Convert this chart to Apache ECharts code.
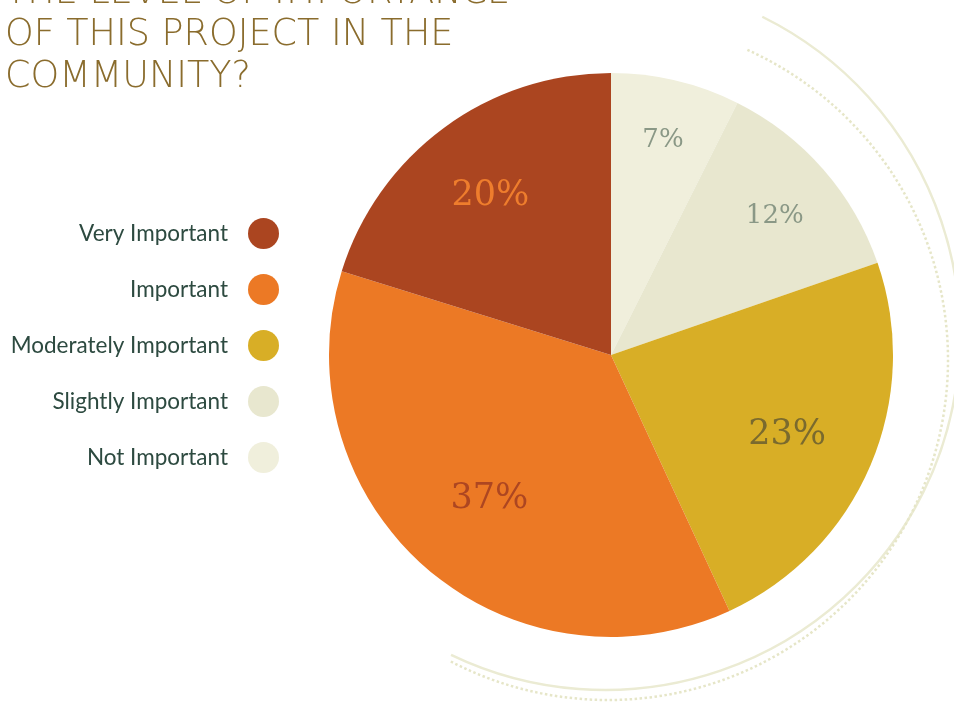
<!DOCTYPE html>
<html><head><meta charset="utf-8">
<script src="https://cdn.jsdelivr.net/npm/echarts@6/dist/echarts.min.js"></script>
<style>html,body{margin:0;padding:0;background:#fff}#chart{width:954px;height:702px}</style>
</head><body><div id="chart"></div>
<script>
const titleLines = ['THE LEVEL OF IMPORTANCE', 'OF THIS PROJECT IN THE', 'COMMUNITY?'];
const legendOrder = ['Very Important', 'Important', 'Moderately Important', 'Slightly Important', 'Not Important'];
const categories = ['Not Important', 'Slightly Important', 'Moderately Important', 'Important', 'Very Important'];
// slice sizes (labels show them rounded)
const values = [7.4, 12.3, 23.4, 36.7, 20.2];
const sliceColors = ['#f0efdc', '#e8e7cf', '#d8ae26', '#ec7925', '#ab4520'];
const labelColors = ['#8a9886', '#8a9886', '#7a6a2e', '#ad4621', '#ee7d2d'];
const labelSizes = [26, 26, 35, 35, 35];
const labelRadius = [0.80, 0.772, 0.679, 0.654, 0.721];

const CX = 611, CY = 355, R = 282;
const total = values.reduce((a, b) => a + b, 0);
const mids = []; let acc = 0;
values.forEach(v => { mids.push((acc + v / 2) / total * 2 * Math.PI); acc += v; });
const deg = Math.PI / 180;

const chart = echarts.init(document.getElementById('chart'), null, {renderer: 'canvas'});
chart.setOption({
  animation: false,
  backgroundColor: '#ffffff',
  title: {
    text: titleLines.join('\n'), left: 5, top: -27, padding: 0,
    textStyle: {fontFamily: 'DejaVu Sans', fontWeight: 200, fontSize: 36.5, lineHeight: 42, color: '#8a6c2d'}
  },
  legend: {
    orient: 'vertical', right: 675, top: 218, padding: 0, itemGap: 25,
    itemWidth: 31, itemHeight: 31, icon: 'circle', align: 'right', selectedMode: false,
    data: legendOrder,
    textStyle: {fontFamily: 'Lato', fontSize: 22.5, color: '#2d4a40', padding: [0, 15, 0, 0]}
  },
  graphic: [
    {type: 'arc', silent: true, z: -1,
     shape: {cx: 605, cy: 335, r: 355, startAngle: -63.7 * deg, endAngle: 115.7 * deg, clockwise: true},
     style: {stroke: '#ebebd3', lineWidth: 2.5, fill: null}},
    {type: 'arc', silent: true, z: -1,
     shape: {cx: 608, cy: 360, r: 340, startAngle: -65.8 * deg, endAngle: 117.7 * deg, clockwise: true},
     style: {stroke: '#e6e6c8', lineWidth: 2.5, lineDash: [2.5, 2.5], fill: null}}
  ],
  series: [{
    type: 'pie',
    center: [CX, CY], radius: R,
    startAngle: 90, clockwise: true,
    silent: true,
    emphasis: {disabled: true},
    labelLine: {show: false},
    data: categories.map((name, i) => ({
      name, value: values[i],
      itemStyle: {color: sliceColors[i]},
      label: {color: labelColors[i], fontSize: labelSizes[i]}
    })),
    label: {
      show: true, position: 'inside',
      formatter: p => Math.round(p.value) + '%',
      fontFamily: 'DejaVu Serif', fontWeight: 'normal'
    },
    labelLayout: function (p) {
      const i = p.dataIndex, a = mids[i], r = labelRadius[i] * R;
      return {x: CX + r * Math.sin(a), y: CY - r * Math.cos(a) + 5, align: 'center', verticalAlign: 'middle'};
    }
  }]
});
</script></body></html>
